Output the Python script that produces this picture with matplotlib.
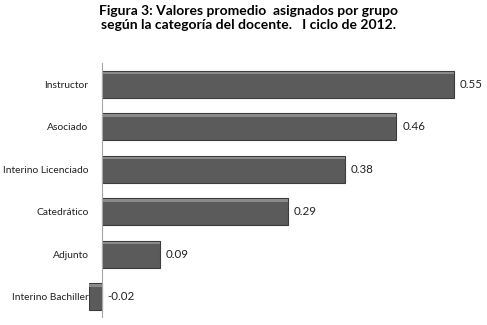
import matplotlib.pyplot as plt

categorias = ["Instructor", "Asociado", "Interino Licenciado", "Catedrático",
              "Adjunto", "Interino Bachiller"]
valores = [0.55, 0.46, 0.38, 0.29, 0.09, -0.02]
etiquetas = ["0.55", "0.46", "0.38", "0.29", "0.09", "-0.02"]

plt.rcParams['font.family'] = ['Lato', 'DejaVu Sans']

fig = plt.figure(figsize=(4.87, 3.25), dpi=100)
ax = fig.add_axes([89.2/487, 1-318/325, (486-89.2)/487, (318-63)/325])

y = list(range(len(categorias)))
ax.barh(y, valores, height=0.63, color="#5b5b5b", edgecolor="#3c3c3c", linewidth=0.8)
# bevel highlight along the top of each bar
ax.barh([v - 0.26 for v in y], valores, height=0.06, color="#8a8a8a", linewidth=0)

for yi, v, t in zip(y, valores, etiquetas):
    x = max(v, 0) + 0.009
    ax.text(x, yi, t, va="center", ha="left", fontsize=8.3, color="#222222")

ax.set_xlim(-0.02, 0.6)
ax.set_ylim(len(categorias) - 0.5, -0.5)
ax.axvline(0, color="#a6a6a6", linewidth=0.8)
ax.set_yticks(y)
ax.set_yticklabels(categorias, fontsize=7.4, color="#222222")
ax.tick_params(axis="y", length=0, pad=0.5)
ax.set_xticks([])
for s in ax.spines.values():
    s.set_visible(False)

fig.text(0.51, 1-5/325, "Figura 3: Valores promedio  asignados por grupo\nsegún la categoría del docente.   I ciclo de 2012.",
         ha="center", va="top", fontsize=10, fontweight="bold", linespacing=1.2)

fig.savefig("out.png", dpi=100)
